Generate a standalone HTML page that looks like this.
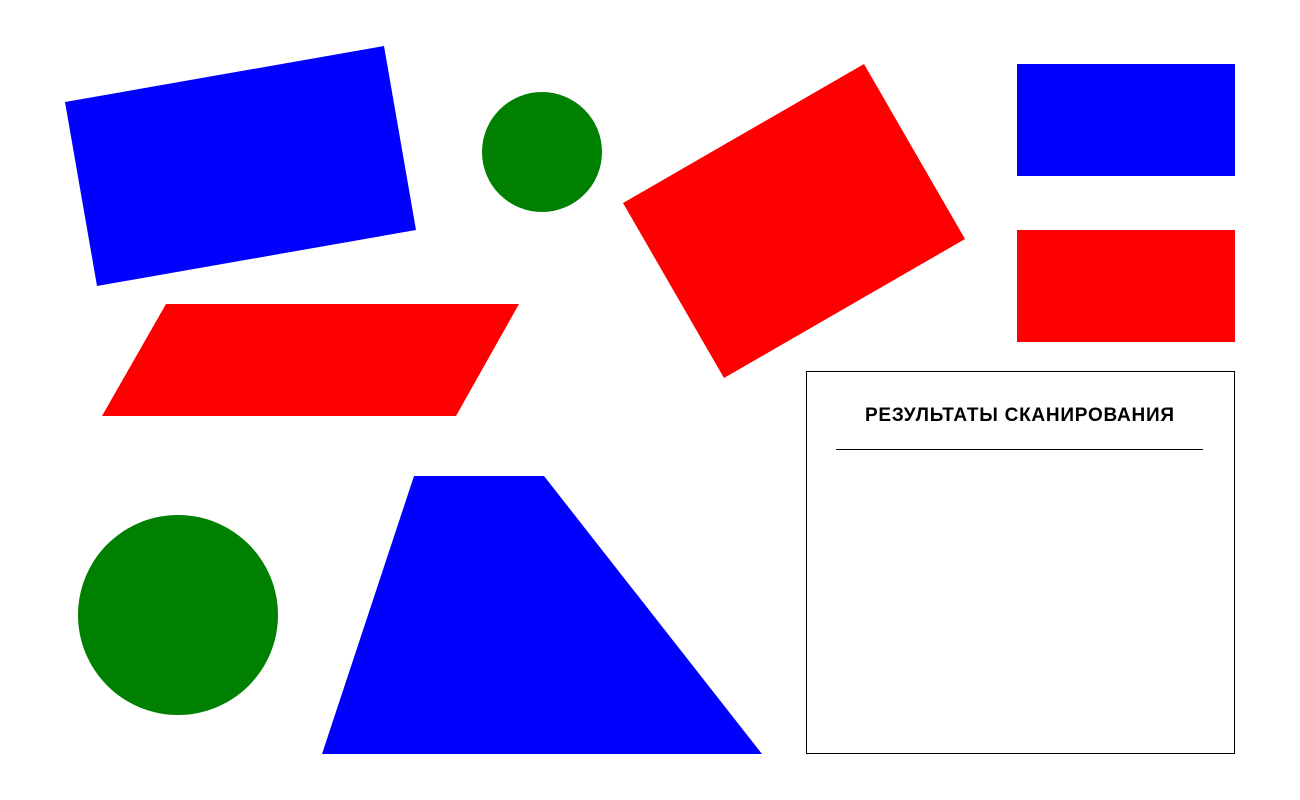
<!DOCTYPE html>
<html>
<head>
<meta charset="utf-8">
<style>
html,body{margin:0;padding:0;background:#fff;}
svg{display:block;}
</style>
</head>
<body>
<svg width="1300" height="800" viewBox="0 0 1300 800" xmlns="http://www.w3.org/2000/svg">
  <rect x="0" y="0" width="1300" height="800" fill="#fff"/>
  <polygon points="65,102 384,46 416,230 97,286" fill="#0000ff"/>
  <circle cx="542" cy="152" r="60" fill="#008000"/>
  <polygon points="623,203 864,64 965,239 724,378" fill="#ff0000"/>
  <rect x="1017" y="64" width="218" height="112" fill="#0000ff"/>
  <rect x="1017" y="230" width="218" height="112" fill="#ff0000"/>
  <polygon points="166,304 519,304 456,416 102,416" fill="#ff0000"/>
  <circle cx="178" cy="615" r="100" fill="#008000"/>
  <polygon points="414,476 544,476 762,754 322,754" fill="#0000ff"/>
  <g>
    <rect x="806.5" y="371.5" width="428" height="382" fill="#fff" stroke="#000" stroke-width="1"/>
    <text x="865" y="421" textLength="309" lengthAdjust="spacing" font-family="Liberation Sans, DejaVu Sans, sans-serif" font-size="19" font-weight="bold" fill="#000">РЕЗУЛЬТАТЫ СКАНИРОВАНИЯ</text>
    <line x1="836" y1="449.5" x2="1203" y2="449.5" stroke="#000" stroke-width="1"/>
  </g>
</svg>
</body>
</html>
